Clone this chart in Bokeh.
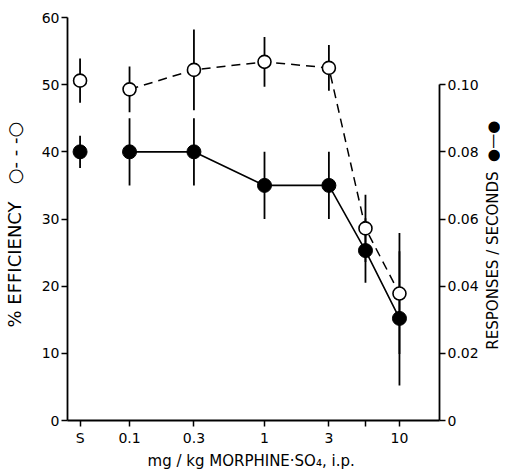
import numpy as np
from bokeh.plotting import figure
from bokeh.layouts import row
from bokeh.models import Range1d, LinearAxis, FixedTicker
from bokeh.core.properties import value
from bokeh.embed import file_html
from bokeh.resources import INLINE

# ---- data ----
doses = [0.043, 0.1, 0.3, 1, 3, 5.6, 10]          # "S" = saline, plotted left of 0.1
dose_labels = ["S", "0.1", "0.3", "1", "3", "", "10"]
efficiency = [50.6, 49.3, 52.2, 53.4, 52.5, 28.6, 18.9]      # % efficiency (open)
efficiency_err = [3.3, 3.4, 6.0, 3.7, 3.4, 5.0, 9.0]
rate = [0.080, 0.080, 0.080, 0.070, 0.070, 0.0506, 0.0304]  # responses / seconds (filled)
rate_err = [0.0048, 0.0100, 0.0100, 0.0100, 0.0100, 0.0096, 0.0200]
left_ticks = [0, 10, 20, 30, 40, 50, 60]
right_ticks = [0, 0.02, 0.04, 0.06, 0.08, 0.10]
right_tick_labels = ["0", "0.02", "0.04", "0.06", "0.08", "0.10"]
NB = "\u00a0"
x_title = "mg / kg  MORPHINE·SO₄, i.p."
left_title = "% EFFICIENCY" + NB * 3 + "○- - -○" + NB * 2
right_title = "RESPONSES / SECONDS" + NB * 2 + "●—●"

FONT = "DejaVu Sans"
W1, W2, H = 484, 16, 472
BL, BT, BR, BB = 67, 17, 45, 52

p = figure(width=W1, height=H, output_backend="svg", toolbar_location=None,
           x_axis_type="log", x_range=Range1d(0.0347, 19.8), y_range=Range1d(0, 60),
           min_border_left=BL, min_border_right=BR, min_border_top=BT, min_border_bottom=BB)
p.outline_line_color = None
p.grid.visible = False
p.extra_y_ranges = {"right": Range1d(0, 0.12)}

# error bars
e_lo = [v - e for v, e in zip(efficiency, efficiency_err)]
e_hi = [v + e for v, e in zip(efficiency, efficiency_err)]
r_lo = [v - e for v, e in zip(rate, rate_err)]
r_hi = [v + e for v, e in zip(rate, rate_err)]
p.segment(x0=doses, y0=e_lo, x1=doses, y1=e_hi, line_color="black", line_width=1.8)
p.segment(x0=doses, y0=r_lo, x1=doses, y1=r_hi, line_color="black", line_width=1.8,
          y_range_name="right")

# connecting lines (saline point not connected)
p.line(doses[1:], efficiency[1:], line_color="black", line_width=1.5, line_dash="9 6")
p.line(doses[1:], rate[1:], line_color="black", line_width=1.6, y_range_name="right")

# markers
p.scatter(doses, efficiency, size=13, fill_color="white", line_color="black", line_width=1.6)
p.scatter(doses, rate, size=14, fill_color="black", line_color="black", y_range_name="right")

def style(ax, fs):
    ax.axis_line_color = "black"
    ax.axis_line_width = 1.8
    ax.major_tick_line_color = "black"
    ax.major_tick_line_width = 1.5
    ax.major_tick_in = 0
    ax.major_tick_out = 6
    ax.minor_tick_line_color = None
    ax.major_label_text_font = FONT
    ax.major_label_text_font_size = "14px"
    ax.major_label_text_color = "black"
    ax.major_label_standoff = 2
    ax.axis_label_text_font = FONT
    ax.axis_label_text_font_size = fs
    ax.axis_label_text_font_style = "normal"
    ax.axis_label_text_color = "black"

xa = p.xaxis[0]
style(xa, "15px")
xa.ticker = FixedTicker(ticks=doses)
xa.major_label_overrides = {d: l for d, l in zip(doses, dose_labels)}
xa.axis_label = x_title
xa.axis_label_standoff = 3
xa.major_label_standoff = 3

ya = p.yaxis[0]
style(ya, "18px")
ya.ticker = FixedTicker(ticks=left_ticks)
ya.axis_label = left_title
ya.axis_label_standoff = 14

ra = LinearAxis(y_range_name="right", ticker=FixedTicker(ticks=right_ticks),
                bounds=(0, 0.10))
style(ra, "14px")
ra.major_label_overrides = {t: l for t, l in zip(right_ticks, right_tick_labels)}
p.add_layout(ra, "right")

# narrow companion canvas holding the right-hand axis title (reads bottom to top)
p2 = figure(width=W2, height=H, output_backend="svg", toolbar_location=None,
            x_range=Range1d(0, W2), y_range=Range1d(0, H),
            min_border=0, min_border_left=0, min_border_right=0,
            min_border_top=0, min_border_bottom=0)
p2.axis.visible = False
p2.grid.visible = False
p2.outline_line_color = None
p2.text(x=[W2 / 2], y=[83], text=[right_title], angle=np.pi / 2,
        text_align="left", text_baseline="middle", text_font=value(FONT),
        text_font_size="15px", text_color="black")

layout = row(p, p2, spacing=0)
open("out.html", "w").write(file_html(layout, INLINE))
